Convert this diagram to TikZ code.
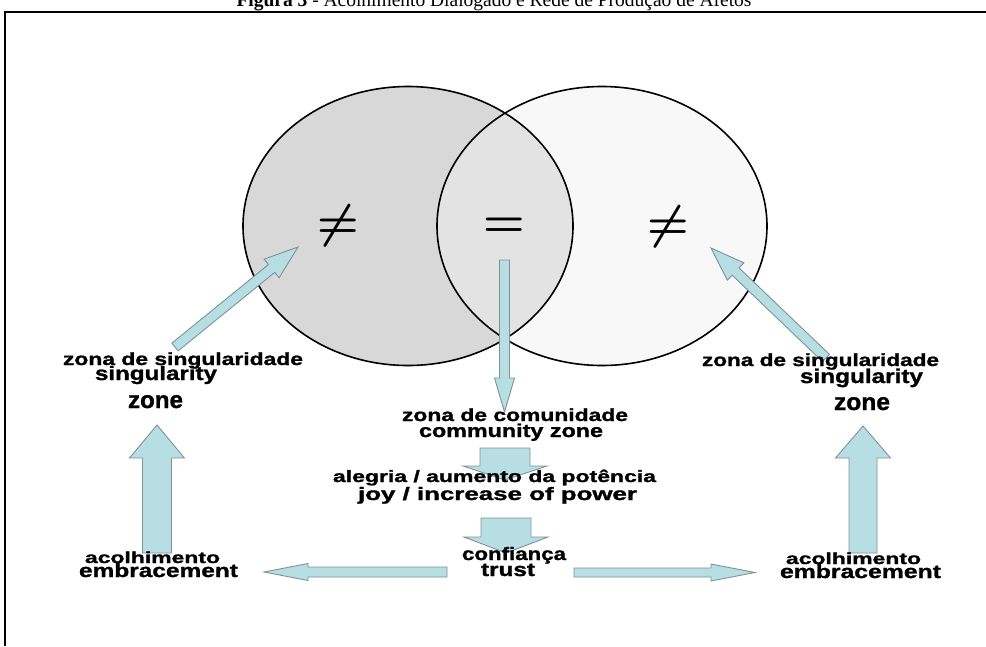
\documentclass[tikz,border=0pt]{standalone}
\usepackage{fontspec}
\usepackage{graphicx}
\setmainfont{Liberation Sans}[BoldFeatures={FakeBold=1.2}]
\newfontfamily\titlefont{Liberation Serif}
\usetikzlibrary{calc}

\definecolor{leftgray}{HTML}{D8D8D8}
\definecolor{midgray}{HTML}{E3E3E3}
\definecolor{rightgray}{HTML}{F8F8F8}
\definecolor{arrowfill}{HTML}{B7DEE3}
\definecolor{arrowline}{HTML}{7E9396}

% bold label: #1 target width (pt), #2 font size, #3 text
\newcommand\lbl[3]{{\fontsize{#2}{#2}\selectfont\bfseries\resizebox{#1pt}{\height}{#3}}}

% block arrow from #1 (tail) to #2 (tip): #3 shaft half width, #4 head half width, #5 head length
\newcommand\blockarrow[5]{%
  \coordinate (hb) at ($(#2)!#5pt!(#1)$);
  \filldraw[barrow] ($(#1)!#3pt!90:(#2)$) -- ($(hb)!#3pt!90:(#2)$) -- ($(hb)!#4pt!90:(#2)$)
    -- (#2) -- ($(hb)!#4pt!-90:(#2)$) -- ($(hb)!#3pt!-90:(#2)$) -- ($(#1)!#3pt!-90:(#2)$) -- cycle;}

\begin{document}
\begin{tikzpicture}[x=1pt,y=-1pt,
  barrow/.style={fill=arrowfill, draw=arrowline, line width=0.9pt, line join=miter},
  venn/.style={draw=black, line width=1.6pt},
  lab/.style={anchor=base, inner sep=0pt, text=black}]
\useasboundingbox (0,0) rectangle (986,646);
\fill[white] (0,0) rectangle (986,646);

% caption above the frame
\node[lab] (title) at (494,6) {\titlefont\fontsize{20}{20}\selectfont\resizebox{515pt}{\height}{\textbf{Figura 3} - Acolhimento Dialogado e Rede de Produção de Afetos}};

% frame
\draw[line width=1.3pt] (5,646) -- (5,12) -- (986,12);

% two overlapping sets
\coordinate (cL) at (408,226);
\coordinate (cR) at (602,226);
\fill[leftgray] (cL) ellipse [x radius=165pt, y radius=139.5pt];
\fill[rightgray] (cR) ellipse [x radius=165pt, y radius=139.5pt];
\begin{scope}
  \clip (cL) ellipse [x radius=165pt, y radius=139.5pt];
  \fill[midgray] (cR) ellipse [x radius=165pt, y radius=139.5pt];
\end{scope}
\draw[venn] (cL) ellipse [x radius=165pt, y radius=139.5pt];
\draw[venn] (cR) ellipse [x radius=165pt, y radius=139.5pt];

\node[lab] (neqL) at (338,237.5) {\resizebox{42pt}{!}{\boldmath$\neq$}};
\node[lab] (eqC)  at (504,236.5) {\resizebox{42pt}{!}{\boldmath$=$}};
\node[lab] (neqR) at (668,238.5) {\resizebox{42pt}{!}{\boldmath$\neq$}};

% arrow end points
\coordinate (dLtail) at (175,347);  \coordinate (dLtip) at (298,247);
\coordinate (dRtail) at (826,358);  \coordinate (dRtip) at (711,248);
\coordinate (vCtail) at (504.5,260); \coordinate (vCtip) at (504.5,412);
\coordinate (b1tail) at (505,448);  \coordinate (b1tip) at (505,480);
\coordinate (b2tail) at (506,518);  \coordinate (b2tip) at (506,553);
\coordinate (uLtail) at (157,553);  \coordinate (uLtip) at (157,425);
\coordinate (uRtail) at (863,553);  \coordinate (uRtip) at (863,426);
\coordinate (hLtail) at (447,572);  \coordinate (hLtip) at (264,572);
\coordinate (hRtail) at (574,572.5); \coordinate (hRtip) at (755,572.5);

\blockarrow{dLtail}{dLtip}{5}{12}{34}
\blockarrow{dRtail}{dRtip}{5}{12}{34}
\blockarrow{vCtail}{vCtip}{5}{10}{34}
\blockarrow{b1tail}{b1tip}{25}{42}{14}
\blockarrow{b2tail}{b2tip}{25}{42}{16}
\blockarrow{uLtail}{uLtip}{14.5}{27.5}{33}
\blockarrow{uRtail}{uRtip}{14}{27.5}{32}
\blockarrow{hLtail}{hLtip}{5}{8.5}{44}
\blockarrow{hRtail}{hRtip}{4.5}{8.5}{44}

% left labels
\node[lab] (sL1) at (183,365) {\lbl{240}{17.5}{zona de singularidade}};
\node[lab] (sL2) at (156,380) {\lbl{122}{19.5}{singularity}};
\node[lab] (sL3) at (155.5,408) {\lbl{55}{24}{zone}};
% right labels
\node[lab] (sR1) at (820.5,366) {\lbl{237}{17.5}{zona de singularidade}};
\node[lab] (sR2) at (861.5,383) {\lbl{123}{20}{singularity}};
\node[lab] (sR3) at (862,410) {\lbl{56}{24}{zone}};
% centre column
\node[lab] (cz1) at (515,421) {\lbl{226}{17.5}{zona de comunidade}};
\node[lab] (cz2) at (511,437) {\lbl{184}{18.5}{community zone}};
\node[lab] (al1) at (494.5,482) {\lbl{323}{16.5}{alegria / aumento da potência}};
\node[lab] (al2) at (497.5,500) {\lbl{279}{18}{joy / increase of power}};
\node[lab] (cf1) at (514,560) {\lbl{104}{18}{confiança}};
\node[lab] (cf2) at (508,576) {\lbl{54}{19}{trust}};
% bottom corners
\node[lab] (acL1) at (152.5,563) {\lbl{135}{16}{acolhimento}};
\node[lab] (acL2) at (158.5,577) {\lbl{159}{19}{embracement}};
\node[lab] (acR1) at (853.5,564) {\lbl{135}{16}{acolhimento}};
\node[lab] (acR2) at (860.5,578) {\lbl{161}{19}{embracement}};
\end{tikzpicture}
\end{document}
